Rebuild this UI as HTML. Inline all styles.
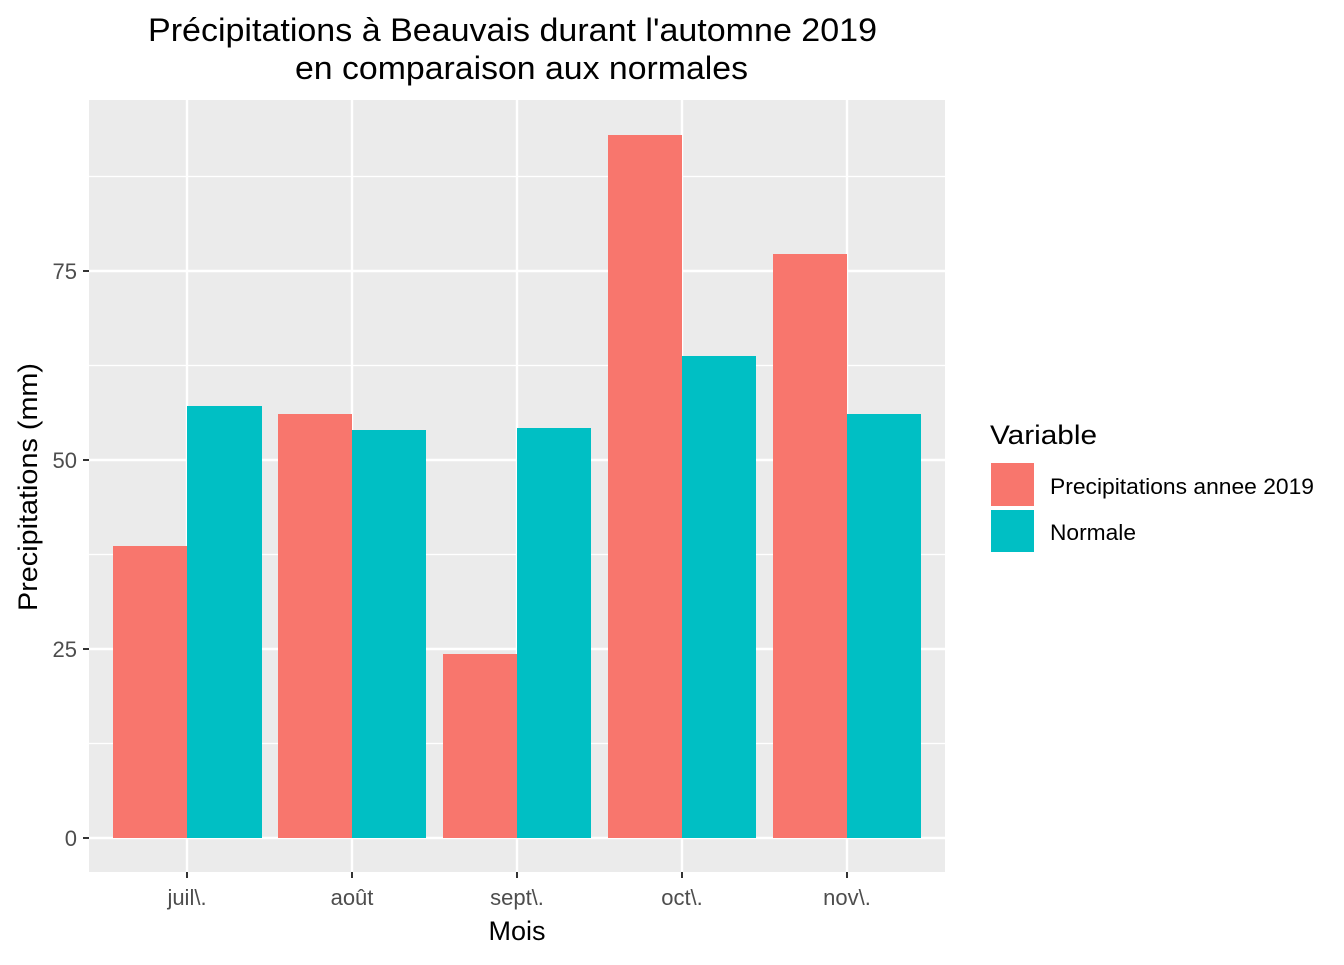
<!DOCTYPE html>
<html><head><meta charset="utf-8"><style>body{margin:0;background:#fff}</style></head><body>
<svg width="1344" height="960" xmlns="http://www.w3.org/2000/svg" font-family="Liberation Sans, sans-serif">
<rect width="1344" height="960" fill="#fff"/>
<text x="148" y="41" font-size="32" textLength="729" lengthAdjust="spacingAndGlyphs">Précipitations à Beauvais durant l'automne 2019</text>
<text x="295" y="79" font-size="32" textLength="453" lengthAdjust="spacingAndGlyphs">en comparaison aux normales</text>
<rect x="89" y="100" width="856" height="772" fill="#ebebeb"/>
<g stroke="#fff" stroke-width="1.2">
<line x1="89" x2="945" y1="743.5" y2="743.5"/><line x1="89" x2="945" y1="554.5" y2="554.5"/>
<line x1="89" x2="945" y1="365.5" y2="365.5"/><line x1="89" x2="945" y1="176.5" y2="176.5"/>
</g>
<g stroke="#fff" stroke-width="2.4">
<line x1="89" x2="945" y1="838" y2="838"/><line x1="89" x2="945" y1="649" y2="649"/>
<line x1="89" x2="945" y1="460" y2="460"/><line x1="89" x2="945" y1="271" y2="271"/>
<line x1="187" x2="187" y1="100" y2="872"/><line x1="352" x2="352" y1="100" y2="872"/>
<line x1="517" x2="517" y1="100" y2="872"/><line x1="682" x2="682" y1="100" y2="872"/>
<line x1="847" x2="847" y1="100" y2="872"/>
</g>
<g fill="#f8766d">
<rect x="113" y="546" width="74" height="292"/><rect x="278" y="414" width="74" height="424"/>
<rect x="443" y="654" width="74" height="184"/><rect x="608" y="135" width="74" height="703"/>
<rect x="773" y="254" width="74" height="584"/>
</g>
<g fill="#00bfc4">
<rect x="187" y="406" width="75" height="432"/><rect x="352" y="430" width="74" height="408"/>
<rect x="517" y="428" width="74" height="410"/><rect x="682" y="356" width="74" height="482"/>
<rect x="847" y="414" width="74" height="424"/>
</g>
<g stroke="#333" stroke-width="2">
<line x1="83" x2="89" y1="838" y2="838"/><line x1="83" x2="89" y1="649" y2="649"/>
<line x1="83" x2="89" y1="460" y2="460"/><line x1="83" x2="89" y1="271" y2="271"/>
<line x1="187" x2="187" y1="872" y2="878"/><line x1="352" x2="352" y1="872" y2="878"/>
<line x1="517" x2="517" y1="872" y2="878"/><line x1="682" x2="682" y1="872" y2="878"/>
<line x1="847" x2="847" y1="872" y2="878"/>
</g>
<g font-size="22" fill="#4d4d4d" text-anchor="end">
<text x="77" y="846">0</text><text x="77" y="657">25</text><text x="77" y="468">50</text><text x="77" y="279">75</text>
</g>
<g font-size="22" fill="#4d4d4d" text-anchor="middle">
<text x="187" y="905">juil\.</text><text x="352" y="905">août</text><text x="517" y="905">sept\.</text>
<text x="682" y="905">oct\.</text><text x="847" y="905">nov\.</text>
</g>
<text x="517" y="940" font-size="27" text-anchor="middle">Mois</text>
<text transform="translate(37,611) rotate(-90)" font-size="27" textLength="248" lengthAdjust="spacingAndGlyphs">Precipitations (mm)</text>
<text x="990" y="444" font-size="27" textLength="107" lengthAdjust="spacingAndGlyphs">Variable</text>
<rect x="991" y="463" width="43" height="43" fill="#f8766d"/>
<rect x="991" y="510" width="43" height="42" fill="#00bfc4"/>
<text x="1050" y="494" font-size="22" textLength="264" lengthAdjust="spacingAndGlyphs">Precipitations annee 2019</text>
<text x="1050" y="540" font-size="22" textLength="86" lengthAdjust="spacingAndGlyphs">Normale</text>
</svg>
</body></html>
